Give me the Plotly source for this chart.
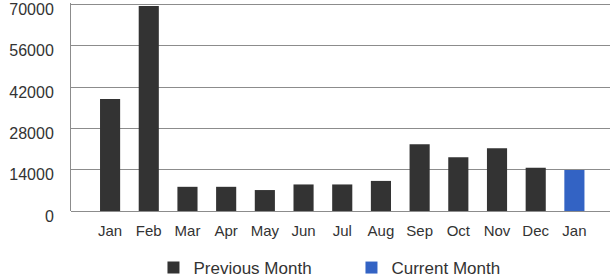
import plotly.graph_objects as go

months = ["Jan", "Feb", "Mar", "Apr", "May", "Jun", "Jul", "Aug", "Sep", "Oct", "Nov", "Dec", "Jan"]
previous_values = [38000, 69500, 8200, 8200, 7100, 9000, 9000, 10200, 22600, 18200, 21300, 14700]
current_values = [13900]
y_ticks = [0, 14000, 28000, 42000, 56000, 70000]

x_prev = list(range(len(previous_values)))
x_cur = [len(previous_values)]

fig = go.Figure()
fig.add_trace(go.Bar(x=x_prev, y=previous_values, name="Previous Month",
                     marker=dict(color="#333333", line=dict(width=0)), width=0.52))
fig.add_trace(go.Bar(x=x_cur, y=current_values, name="Current Month",
                     marker=dict(color="#3363c4", line=dict(width=0)), width=0.52))

fig.update_layout(
    width=610, height=278,
    margin=dict(l=71, r=0, t=3, b=67),
    paper_bgcolor="white", plot_bgcolor="white",
    font=dict(family="Liberation Sans, Arial, sans-serif", size=15, color="#333333"),
    showlegend=True,
    legend=dict(orientation="h", xref="container", yref="container",
                x=0.2516, xanchor="left", y=0.036, yanchor="middle",
                font=dict(size=17, color="#333333"),
                entrywidth=153, entrywidthmode="pixels", traceorder="normal"),
    bargap=0.48,
)
fig.update_xaxes(
    range=[-1.01, 12.92], automargin=False,
    tickvals=list(range(len(months))), ticktext=months,
    showgrid=False, zeroline=False, showline=False, ticks="",
    tickfont=dict(size=15, color="#333333"), ticklabelstandoff=9,
)
fig.update_yaxes(
    range=[0, 70500], automargin=False, tickvals=y_ticks, ticktext=[str(v) for v in y_ticks],
    showgrid=True, gridcolor="#8c8c8c", gridwidth=1,
    zeroline=True, zerolinecolor="#8c8c8c", zerolinewidth=1,
    showline=True, linecolor="#8c8c8c", linewidth=1, ticks="",
    tickfont=dict(size=16, color="#333333"), ticklabelstandoff=13,
    ticklabelshift=5, ticklabeloverflow="allow",
)

fig.write_html("out.html", config={"displayModeBar": False},
               post_script="document.body.style.margin='0';")
